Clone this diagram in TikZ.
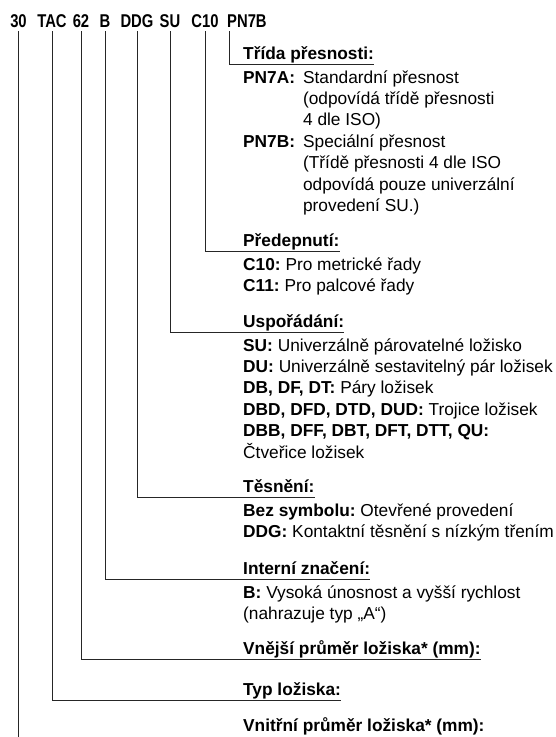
\documentclass[tikz,border=0pt]{standalone}
\usepackage{fontspec}
\setmainfont{Liberation Sans}
\frenchspacing
\newcommand{\cd}[1]{\scalebox{0.8}[1]{#1}}

\begin{document}
\begin{tikzpicture}[x=1pt,y=-1pt,
  code/.style={anchor=base,inner sep=0pt,text depth=4pt,font=\fontsize{18.5}{20}\selectfont\bfseries},
  hdr/.style={anchor=base west,inner sep=0pt,text depth=5pt,font=\fontsize{17.3}{21.4}\selectfont\bfseries},
  txt/.style={anchor=base west,inner sep=0pt,font=\fontsize{17.3}{21.4}\selectfont},
  link/.style={line width=1pt,draw=black!85}]
\useasboundingbox (0,0) rectangle (555,737);

% code
\node[code] (c30) at (18.5,27) {\cd{30}};
\node[code] (cTAC) at (52,27) {\cd{TAC}};
\node[code] (c62) at (81,27) {\cd{62}};
\node[code] (cB) at (105,27) {\cd{B}};
\node[code] (cDDG) at (137,27) {\cd{DDG}};
\node[code] (cSU) at (170,27) {\cd{SU}};
\node[code] (cC) at (205,27) {\cd{C10}};
\node[code,anchor=base west] (cPN) at (227,27) {\cd{PN7B}};

% headers and texts
\node[hdr] (hTrida) at (243,59) {Třída přesnosti:};
\node[txt] (tTrida) at (243,83) {\begin{tabular}[t]{@{}l@{\hspace{8pt}}l@{}}
\textbf{PN7A:} & Standardní přesnost\\
 & (odpovídá třídě přesnosti\\
 & 4 dle ISO)\\
\textbf{PN7B:} & Speciální přesnost\\
 & (Třídě přesnosti 4 dle ISO\\
 & odpovídá pouze univerzální\\
 & provedení SU.)
\end{tabular}};

\node[hdr] (hPred) at (243,246) {Předepnutí:};
\node[txt] (tPred) at (243,270) {\begin{tabular}[t]{@{}l@{}}
\textbf{C10:} Pro metrické řady\\
\textbf{C11:} Pro palcové řady
\end{tabular}};

\node[hdr] (hUsp) at (243,327) {Uspořádání:};
\node[txt] (tUsp) at (243,351) {\begin{tabular}[t]{@{}l@{}}
\textbf{SU:} Univerzálně párovatelné ložisko\\
\textbf{DU:} Univerzálně sestavitelný pár ložisek\\
\textbf{DB, DF, DT:} Páry ložisek\\
\textbf{DBD, DFD, DTD, DUD:} Trojice ložisek\\
\textbf{DBB, DFF, DBT, DFT, DTT, QU:}\\
Čtveřice ložisek
\end{tabular}};

\node[hdr] (hTes) at (243,492) {Těsnění:};
\node[txt] (tTes) at (243,516) {\begin{tabular}[t]{@{}l@{}}
\textbf{Bez symbolu:} Otevřené provedení\\
\textbf{DDG:} Kontaktní těsnění s nízkým třením
\end{tabular}};

\node[hdr] (hInt) at (243,574) {Interní značení:};
\node[txt] (tInt) at (243,598) {\begin{tabular}[t]{@{}l@{}}
\textbf{B:} Vysoká únosnost a vyšší rychlost\\
(nahrazuje typ „A“)
\end{tabular}};

\node[hdr] (hVne) at (243,654) {Vnější průměr ložiska* (mm):};
\node[hdr] (hTyp) at (243,695) {Typ ložiska:};
\node[hdr] (hVni) at (243,731) {Vnitřní průměr ložiska* (mm):};
\coordinate (bot) at (18.5,737);

% connectors
\draw[link] ([xshift=2pt]cPN.south west) |- (hTrida.south east);
\draw[link] (cC.south) |- (hPred.south east);
\draw[link] (cSU.south) |- (hUsp.south east);
\draw[link] (cDDG.south) |- (hTes.south east);
\draw[link] (cB.south) |- (hInt.south east);
\draw[link] (c62.south) |- (hVne.south east);
\draw[link] (cTAC.south) |- (hTyp.south east);
\draw[link] (c30.south) -- (bot);
\end{tikzpicture}
\end{document}
